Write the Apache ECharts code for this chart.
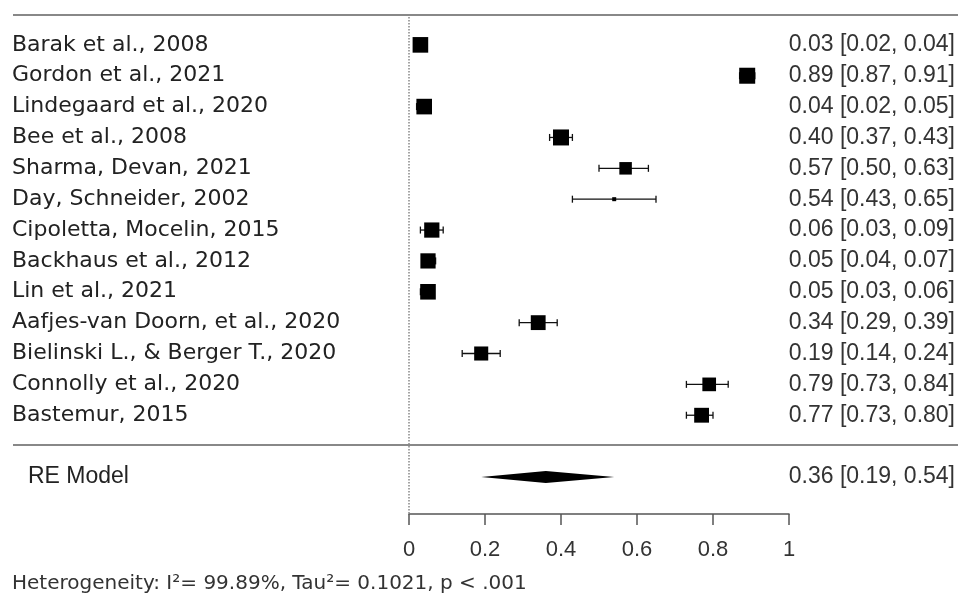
<!DOCTYPE html>
<html>
<head>
<meta charset="utf-8">
<script src="https://cdn.jsdelivr.net/npm/echarts@6/dist/echarts.min.js"></script>
<style>
  html, body { margin: 0; padding: 0; background: #fff; }
  #main { width: 958px; height: 598px; }
</style>
</head>
<body>
<div id="main"></div>
<script>
// studies, top to bottom
var studies = ['Barak et al., 2008', 'Gordon et al., 2021', 'Lindegaard et al., 2020', 'Bee et al., 2008',
    'Sharma, Devan, 2021', 'Day, Schneider, 2002', 'Cipoletta, Mocelin, 2015', 'Backhaus et al., 2012',
    'Lin et al., 2021', 'Aafjes-van Doorn, et al., 2020', 'Bielinski L., & Berger T., 2020',
    'Connolly et al., 2020', 'Bastemur, 2015'];
var estimate = [0.03, 0.89, 0.04, 0.40, 0.57, 0.54, 0.06, 0.05, 0.05, 0.34, 0.19, 0.79, 0.77];
var lower    = [0.02, 0.87, 0.02, 0.37, 0.50, 0.43, 0.03, 0.04, 0.03, 0.29, 0.14, 0.73, 0.73];
var upper    = [0.04, 0.91, 0.05, 0.43, 0.63, 0.65, 0.09, 0.07, 0.06, 0.39, 0.24, 0.84, 0.80];
// RE weights (%), estimated from square sizes
var weights  = [7.80, 7.81, 7.80, 7.81, 7.72, 7.50, 7.79, 7.79, 7.80, 7.78, 7.76, 7.75, 7.78];

var pooledLabel = 'RE Model';
var pooled = [0.36, 0.19, 0.54]; // est, lower, upper
var heterogeneity = 'Heterogeneity: I\u00b2= 99.89%, Tau\u00b2= 0.1021, p < .001';

var wMin = Math.min.apply(null, weights);
var wMax = Math.max.apply(null, weights);
var pooledRow = studies.length + 2;

function ciText(e, l, u) {
    return e.toFixed(2) + ' [' + l.toFixed(2) + ', ' + u.toFixed(2) + ']';
}

var numFont = '23px "Liberation Sans", Arial';

var studyData = estimate.map(function (v, i) {
    return [v, lower[i], upper[i], i + 1, weights[i]];
});

var myChart = echarts.init(document.getElementById('main'));

option = {
    animation: false,
    grid: { left: 409, width: 380, top: 14, height: 500 },
    xAxis: {
        type: 'value',
        position: 'bottom',
        min: 0,
        max: 1,
        interval: 0.2,
        splitLine: { show: false },
        axisLine: { show: true, onZero: false, lineStyle: { color: '#555', width: 1.5 } },
        axisTick: { show: true, length: 11, lineStyle: { color: '#555', width: 1.5 } },
        axisLabel: { margin: 25, fontSize: 22, fontFamily: 'Liberation Sans, Arial', color: '#333' }
    },
    yAxis: {
        type: 'value',
        inverse: true,
        min: 0,
        max: 16.2,
        show: false
    },
    graphic: [
        { type: 'line', shape: { x1: 13, y1: 15, x2: 958, y2: 15 }, style: { stroke: '#888', lineWidth: 2 } },
        { type: 'line', shape: { x1: 13, y1: 445, x2: 958, y2: 445 }, style: { stroke: '#888', lineWidth: 2 } },
        { type: 'text', left: 12, top: 574,
          style: { text: heterogeneity, font: '20px "DejaVu Sans"', fill: '#333' } }
    ],
    series: [
        {
            // dotted reference line at 0
            type: 'line',
            data: [],
            markLine: {
                silent: true,
                symbol: 'none',
                label: { show: false },
                lineStyle: { type: 'dotted', color: '#888', width: 1.5 },
                data: [{ xAxis: 0 }]
            }
        },
        {
            name: 'studies',
            type: 'custom',
            clip: false,
            encode: { x: [0, 1, 2], y: 3 },
            data: studyData,
            renderItem: function (params, api) {
                var i = params.dataIndex;
                var row = api.value(3);
                var pE = api.coord([api.value(0), row]);
                var pL = api.coord([api.value(1), row]);
                var pU = api.coord([api.value(2), row]);
                var s = 4 + (api.value(4) - wMin) / (wMax - wMin) * 12;
                var st = { stroke: '#111', lineWidth: 1.3 };
                return {
                    type: 'group',
                    children: [
                        { type: 'line', shape: { x1: pL[0], y1: pL[1], x2: pU[0], y2: pU[1] }, style: st },
                        { type: 'line', shape: { x1: pL[0], y1: pL[1] - 3.5, x2: pL[0], y2: pL[1] + 3.5 }, style: st },
                        { type: 'line', shape: { x1: pU[0], y1: pU[1] - 3.5, x2: pU[0], y2: pU[1] + 3.5 }, style: st },
                        { type: 'rect', shape: { x: pE[0] - s / 2, y: pE[1] - s / 2, width: s, height: s },
                          style: { fill: '#000' } },
                        { type: 'text', x: 12, y: pE[1],
                          style: { text: studies[i], font: '22px "DejaVu Sans"', fill: '#222',
                                   verticalAlign: 'middle', align: 'left' } },
                        { type: 'text', x: 955, y: pE[1],
                          style: { text: ciText(api.value(0), api.value(1), api.value(2)),
                                   font: numFont, fill: '#333',
                                   verticalAlign: 'middle', align: 'right' } }
                    ]
                };
            }
        },
        {
            name: 'pooled',
            type: 'custom',
            clip: false,
            encode: { x: [0, 1, 2], y: 3 },
            data: [[pooled[0], pooled[1], pooled[2], pooledRow]],
            renderItem: function (params, api) {
                var row = api.value(3);
                var pE = api.coord([api.value(0), row]);
                var pL = api.coord([api.value(1), row]);
                var pU = api.coord([api.value(2), row]);
                var h = 6;
                return {
                    type: 'group',
                    children: [
                        { type: 'polygon',
                          shape: { points: [[pL[0], pL[1]], [pE[0], pE[1] - h], [pU[0], pU[1]], [pE[0], pE[1] + h]] },
                          style: { fill: '#000' } },
                        { type: 'text', x: 28, y: pE[1],
                          style: { text: pooledLabel, font: numFont, fill: '#222',
                                   verticalAlign: 'middle', align: 'left' } },
                        { type: 'text', x: 955, y: pE[1],
                          style: { text: ciText(api.value(0), api.value(1), api.value(2)),
                                   font: numFont, fill: '#333',
                                   verticalAlign: 'middle', align: 'right' } }
                    ]
                };
            }
        }
    ]
};

myChart.setOption(option);
</script>
</body>
</html>
